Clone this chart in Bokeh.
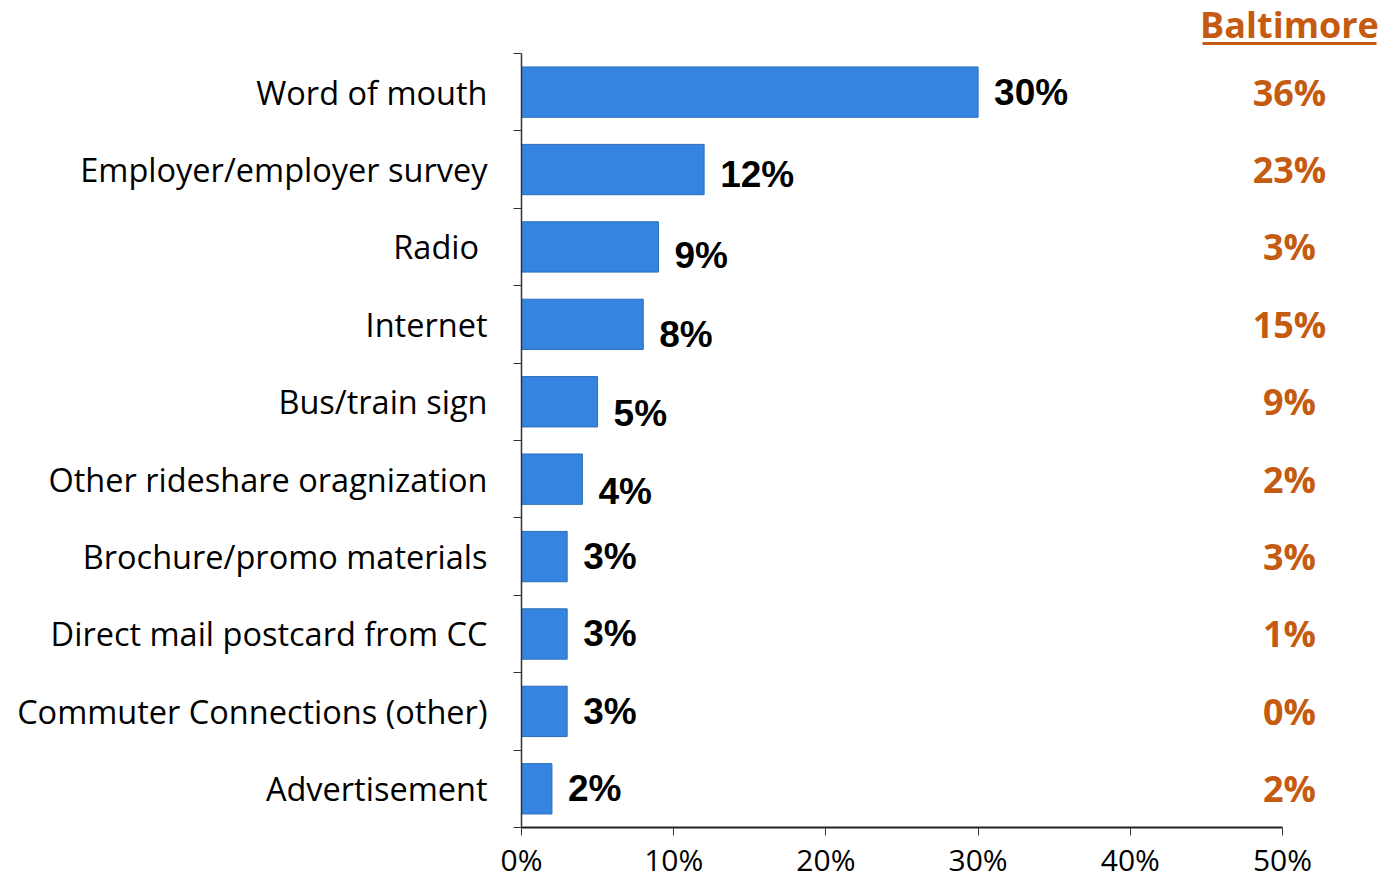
from bokeh.plotting import figure
from bokeh.models import Range1d, FixedTicker, ColumnDataSource, LabelSet
from bokeh.core.properties import value
from bokeh.embed import file_html
from bokeh.resources import INLINE

# ---- data ----
categories = ["Word of mouth", "Employer/employer survey", "Radio ", "Internet",
              "Bus/train sign", "Other rideshare oragnization", "Brochure/promo materials",
              "Direct mail postcard from CC", "Commuter Connections (other)", "Advertisement"]
overall = [30, 12, 9, 8, 5, 4, 3, 3, 3, 2]
baltimore = [36, 23, 3, 15, 9, 2, 3, 1, 0, 2]
x_ticks = [0, 10, 20, 30, 40, 50]
header = "Baltimore"

# layout tweaks (pixel nudges of value labels, as in the original slide)
label_nudge = [0, -5, -9, -10, -12, -12, 0, 0, 0, 0]

n = len(categories)
ypos = [n - 1 - i for i in range(n)]  # top category at highest y

W, H = 1390, 882
left, bottom = 521, 54
frame_w = W - left
px_per_unit_x = 761 / 50.0
band_px = 77.5
frame_h = H - bottom
y_top = (n - 0.5) + 53 / band_px
y_bot = y_top - frame_h / band_px

p = figure(width=W, height=H, output_backend="svg", toolbar_location=None,
           x_range=Range1d(0, frame_w / px_per_unit_x), y_range=Range1d(y_bot, y_top),
           min_border_left=left, min_border_bottom=bottom, min_border_top=0, min_border_right=0)
p.outline_line_color = None
p.xgrid.visible = False
p.ygrid.visible = False
p.background_fill_color = "white"

src = ColumnDataSource(dict(
    y=ypos, v=overall, b=baltimore,
    vlab=[f"{v}%" for v in overall], blab=[f"{b}%" for b in baltimore],
    nudge=label_nudge,
))

p.hbar(y="y", right="v", left=0, height=0.65, source=src,
       fill_color="#3584E0", line_color="#2B6DB9", line_width=1)

p.add_layout(LabelSet(x="v", y="y", text="vlab", source=src, x_offset=16, y_offset="nudge",
                      text_font=value("Liberation Sans"), text_font_style="bold",
                      text_font_size="37px", text_color="black",
                      text_baseline="middle", text_align="left"))

bx = (1289 - left) / px_per_unit_x
src_b = ColumnDataSource(dict(x=[bx] * n, y=ypos, t=[f"{b}%" for b in baltimore]))
p.text(x="x", y="y", text="t", source=src_b, text_font=value("Open Sans"),
       text_font_style="bold", text_font_size="36px", text_color="#C55A11",
       text_align="center", text_baseline="middle")

hy = y_top - 24 / band_px
p.text(x=[bx], y=[hy], text=[header], text_font=value("Open Sans"),
       text_font_style="bold", text_font_size="36px", text_color="#C55A11",
       text_align="center", text_baseline="middle")
uy = y_top - 43 / band_px
half = 87 / px_per_unit_x
p.segment(x0=[bx - half], x1=[bx + half], y0=[uy], y1=[uy], line_color="#C55A11", line_width=3)

# x axis
xa = p.xaxis[0]
xa.ticker = FixedTicker(ticks=x_ticks)
xa.major_label_overrides = {t: f"{t}%" for t in x_ticks}
xa.bounds = (0, 50)
xa.axis_line_color = "#222222"
xa.axis_line_width = 2
xa.major_tick_line_color = "#333333"
xa.major_tick_out = 8
xa.major_tick_in = 0
xa.minor_tick_line_color = None
xa.major_label_text_font = "Open Sans"
xa.major_label_text_font_size = "30px"
xa.major_label_text_color = "black"
xa.major_label_standoff = 3

# y axis
ya = p.yaxis[0]
ya.ticker = FixedTicker(ticks=ypos, minor_ticks=[i - 0.5 for i in range(n + 1)])
ya.major_label_overrides = {y: c for y, c in zip(ypos, categories)}
ya.bounds = (-0.5, n - 0.5)
ya.axis_line_color = "#333333"
ya.axis_line_width = 1.5
ya.major_tick_line_color = None
ya.major_tick_out = 0
ya.major_tick_in = 0
ya.minor_tick_line_color = "#333333"
ya.minor_tick_out = 8
ya.minor_tick_in = 0
ya.major_label_text_font = "Open Sans"
ya.major_label_text_font_size = "32.5px"
ya.major_label_text_color = "black"
ya.major_label_standoff = 26

open("out.html", "w").write(file_html(p, INLINE))
